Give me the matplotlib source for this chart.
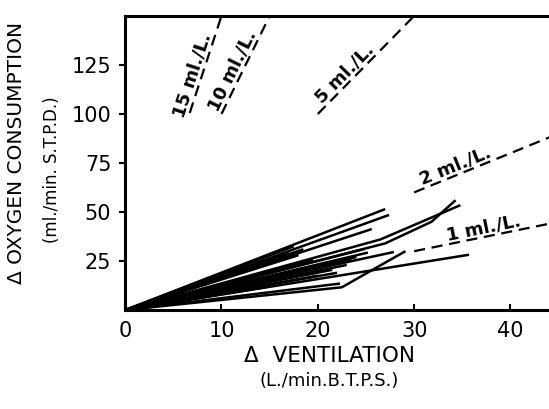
import matplotlib
matplotlib.use('Agg')
import matplotlib.pyplot as plt
import numpy as np

# change in ventilation (L/min BTPS) for each subject, and change in O2 uptake (ml/min STPD)
subject_ve = [
    [0, 27.0],
    [0, 27.4],
    [0, 25.6],
    [0, 17.5],
    [0, 26.5, 34.8],
    [0, 27.0, 31.8, 34.3],
    [0, 24.9],
    [0, 25.2],
    [0, 27.9],
    [0, 23.0],
    [0, 21.5],
    [0, 19.5],
    [0, 22.3],
    [0, 22.5, 26.0, 29.1],
    [0, 35.7],
    [0, 16.0],
    [0, 20.0],
    [0, 18.0],
    [0, 18.5],
    [0, 17.0],
    [0, 21.0],
    [0, 23.5],
    [0, 22.0],
    [0, 15.0],
    [0, 24.0],
    [0, 19.0],
]
subject_vo2 = [
    [0, 51.5],
    [0, 48.5],
    [0, 41.3],
    [0, 32.5],
    [0, 36.0, 53.5],
    [0, 34.0, 45.0, 56.0],
    [0, 31.2],
    [0, 29.3],
    [0, 29.6],
    [0, 23.0],
    [0, 20.5],
    [0, 25.5],
    [0, 13.5],
    [0, 11.6, 21.4, 30.0],
    [0, 28.2],
    [0, 17.0],
    [0, 17.5],
    [0, 28.0],
    [0, 31.0],
    [0, 29.5],
    [0, 22.5],
    [0, 25.5],
    [0, 19.0],
    [0, 12.0],
    [0, 27.0],
    [0, 21.0],
]

# iso-lines of oxygen removed per litre of ventilation
iso_rates = [15, 10, 5, 2, 1]
iso_labels = ['15 ml./L.', '10 ml./L.', '5 ml./L.', '2 ml./L.', '1 ml./L.']
iso_x_start = [6.7, 10.0, 20.0, 30.0, 30.0]
iso_x_end = [10.2, 15.2, 30.5, 44.5, 44.5]
iso_label_x = [7.9, 12.0, 23.5, 34.6, 37.4]

x_ticks = [0, 10, 20, 30, 40]
y_ticks = [25, 50, 75, 100, 125]

plt.rcParams['font.family'] = ['DejaVu Sans']

fig = plt.figure(figsize=(5.49, 4.09), dpi=100)
ax = fig.add_axes([0.228, 0.242, 0.772, 0.719])

for ve, vo2 in zip(subject_ve, subject_vo2):
    ax.plot(ve, vo2, color='black', lw=1.8, solid_capstyle='butt')

ax.set_xlim(0, 44)
ax.set_ylim(0, 150)

for rate, x0, x1 in zip(iso_rates, iso_x_start, iso_x_end):
    xs = np.array([x0, x1])
    ax.plot(xs, rate * xs, color='black', lw=1.6, linestyle=(0, (5, 3)))

for rate, label, lx in zip(iso_rates, iso_labels, iso_label_x):
    angle = ax.transData.transform_angles(np.array([np.degrees(np.arctan(rate))]),
                                          np.array([[lx, rate * lx]]))[0]
    ax.text(lx, rate * lx, label, rotation=angle, rotation_mode='anchor',
            ha='center', va='bottom', fontsize=13, fontweight='bold')

ax.spines['right'].set_visible(False)
for s in ['left', 'bottom', 'top']:
    ax.spines[s].set_linewidth(2.2)

ax.set_xticks(x_ticks)
ax.set_yticks(y_ticks)
ax.tick_params(axis='x', direction='in', length=4, width=1.5, pad=8, labelsize=15)
ax.tick_params(axis='y', direction='out', length=4, width=1.5, pad=6, labelsize=15)

fig.text(0.03, 0.625, '\u0394 OXYGEN CONSUMPTION', rotation=90, ha='center', va='center', fontsize=14.5)
fig.text(0.095, 0.585, '(ml./min. S.T.P.D.)', rotation=90, ha='center', va='center', fontsize=12)
fig.text(0.60, 0.13, '\u0394  VENTILATION', ha='center', va='center', fontsize=15.5)
fig.text(0.60, 0.068, '(L./min.B.T.P.S.)', ha='center', va='center', fontsize=13)

fig.savefig('out.png', dpi=100)
